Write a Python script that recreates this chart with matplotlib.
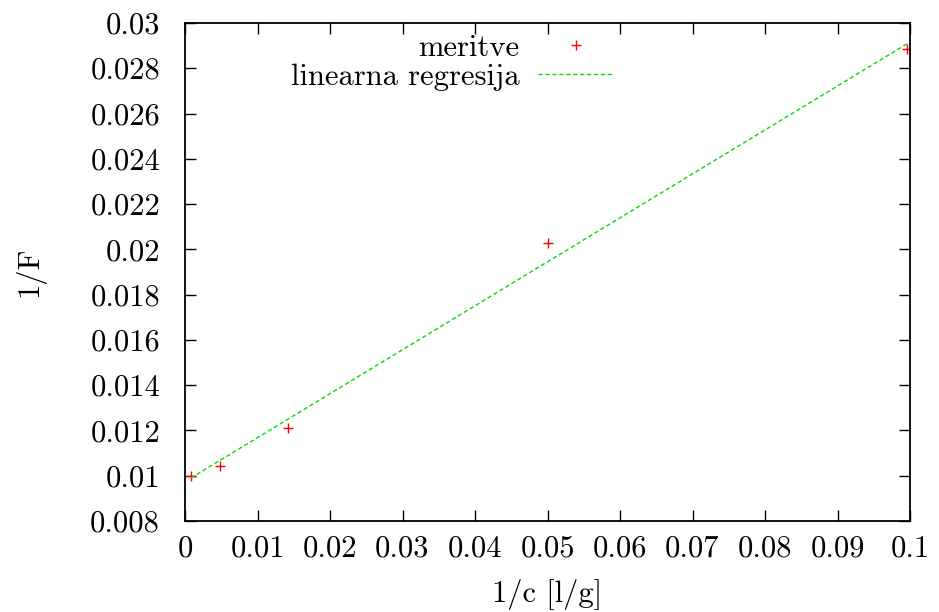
import numpy as np
import matplotlib.pyplot as plt

# meritve (1/c, 1/F)
c_inv = [0.0008, 0.0048, 0.0142, 0.0500, 0.0996]
F_inv = [0.01000, 0.01043, 0.01211, 0.02028, 0.02885]

# linearna regresija
k = 0.1942
n = 0.00974
fit_x = np.array([0.0008, 0.1])

plt.rcParams['font.family'] = ['cmr10', 'DejaVu Serif']
plt.rcParams['mathtext.fontset'] = 'cm'
plt.rcParams['axes.unicode_minus'] = False

fig = plt.figure(figsize=(9.39, 6.12), dpi=100)
ax = fig.add_axes([185/939, 1 - 521/612, 725/939, 498/612])

ax.plot(c_inv, F_inv, '+', color='red', markersize=7, markeredgewidth=1.0,
        label='meritve')
ax.plot(fit_x, k*fit_x + n, '--', color='#00dd00', linewidth=1.0,
        dashes=(3, 2), label='linearna regresija')

ax.set_xlim(0, 0.1)
ax.set_ylim(0.008, 0.03)
ax.set_xticks(np.arange(0, 0.1001, 0.01))
ax.set_xticklabels(['0', '0.01', '0.02', '0.03', '0.04', '0.05', '0.06',
                    '0.07', '0.08', '0.09', '0.1'])
ax.set_yticks(np.arange(0.008, 0.03001, 0.002))
ax.set_yticklabels(['0.008', '0.01', '0.012', '0.014', '0.016', '0.018',
                    '0.02', '0.022', '0.024', '0.026', '0.028', '0.03'])
ax.tick_params(direction='in', length=8, width=1, labelsize=22,
               top=True, right=True)
ax.tick_params(axis='y', pad=18)
ax.tick_params(axis='x', pad=10)
for s in ax.spines.values():
    s.set_linewidth(1.3)

ax.set_xlabel('1/c [l/g]', fontsize=22, labelpad=12)
ax.set_ylabel('1/F', fontsize=22, labelpad=32)

ax.legend(loc='upper right', bbox_to_anchor=(0.592, 0.977), frameon=False,
          markerfirst=False, fontsize=22, handlelength=2.5, labelspacing=0.05,
          borderpad=0, borderaxespad=0, handletextpad=0.6)

plt.savefig('out.png')
